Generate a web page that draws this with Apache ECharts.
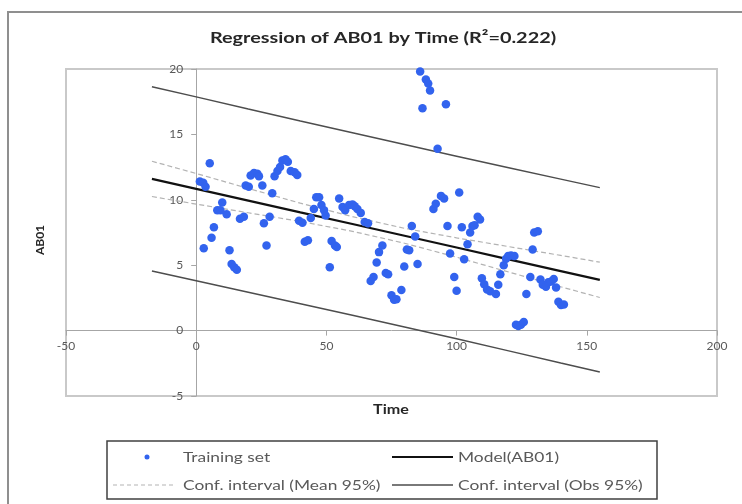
<!DOCTYPE html>
<html>
<head>
<meta charset="utf-8">
<title>Regression of AB01 by Time</title>
<script src="https://cdn.jsdelivr.net/npm/echarts@6/dist/echarts.min.js"></script>
<style>
  html, body { margin: 0; padding: 0; background: #ffffff; }
  #chart { width: 742px; height: 504px; }
</style>
</head>
<body>
<div id="chart"></div>
<script>
// Observations: time and AB01 value of each training point
const timeVals = [
  1.4, 2.7, 2.9, 3.6, 5.2, 5.9, 6.8, 8.1, 9.3, 10.0,
  11.7, 12.8, 13.6, 14.6, 15.6, 16.8, 18.3, 19.0, 20.2, 20.9,
  22.2, 23.5, 24.1, 25.4, 26.0, 27.0, 28.2, 29.2, 30.1, 31.2,
  32.2, 33.1, 34.3, 35.2, 36.3, 37.8, 38.8, 39.5, 40.8, 41.7,
  42.9, 44.0, 45.2, 46.1, 47.2, 48.1, 49.1, 49.7, 51.3, 52.0,
  53.3, 54.0, 54.9, 56.2, 57.2, 58.7, 60.0, 60.9, 61.9, 63.2,
  64.7, 66.0, 67.0, 68.1, 69.3, 70.2, 71.5, 72.8, 73.7, 75.0,
  76.0, 76.9, 78.8, 79.9, 80.9, 81.8, 82.8, 84.1, 85.0, 86.0,
  86.9, 88.2, 89.1, 89.8, 91.1, 92.0, 92.7, 94.0, 95.2, 95.9,
  96.5, 97.5, 99.1, 100.0, 101.0, 102.0, 102.9, 104.2, 105.2, 106.1,
  106.9, 108.1, 109.0, 109.7, 110.6, 111.7, 112.9, 115.1, 116.0, 116.8,
  118.1, 119.0, 119.8, 120.9, 122.2, 122.8, 123.7, 124.7, 125.8, 126.8,
  128.3, 129.2, 129.8, 131.2, 132.2, 133.1, 134.3, 135.2, 136.3, 137.3,
  138.2, 139.1, 140.1, 141.2
];
const ab01Vals = [
  11.4, 11.3, 6.3, 11.0, 12.8, 7.1, 7.9, 9.2, 9.2, 9.8,
  8.9, 6.15, 5.1, 4.85, 4.65, 8.55, 8.7, 11.1, 11.0, 11.85,
  12.05, 12.0, 11.8, 11.1, 8.2, 6.5, 8.7, 10.5, 11.8, 12.2,
  12.5, 13.0, 13.1, 12.9, 12.2, 12.1, 11.9, 8.4, 8.25, 6.8,
  6.9, 8.6, 9.3, 10.2, 10.2, 9.6, 9.2, 8.8, 4.85, 6.85,
  6.5, 6.4, 10.1, 9.45, 9.2, 9.6, 9.65, 9.5, 9.3, 9.0,
  8.3, 8.2, 3.8, 4.1, 5.2, 6.0, 6.5, 4.4, 4.3, 2.7,
  2.35, 2.4, 3.1, 4.9, 6.2, 6.15, 8.0, 7.2, 5.1, 19.8,
  17.0, 19.2, 18.9, 18.35, 9.3, 9.7, 13.9, 10.3, 10.1, 17.3,
  8.0, 5.9, 4.1, 3.05, 10.55, 7.9, 5.45, 6.6, 7.5, 8.0,
  8.05, 8.7, 8.5, 4.0, 3.55, 3.15, 3.0, 2.8, 3.5, 4.3,
  5.0, 5.5, 5.7, 5.75, 5.7, 0.45, 0.35, 0.45, 0.65, 2.8,
  4.1, 6.2, 7.5, 7.6, 3.9, 3.5, 3.35, 3.7, 3.75, 3.95,
  3.3, 2.2, 1.95, 2.0
];

// Fitted model and its interval bands, sampled along the time axis
const bandTime   = [-17, 0, 20, 40, 60, 80, 100, 120, 140, 155];
const modelVals  = [11.60, 10.84, 9.94, 9.04, 8.15, 7.25, 6.35, 5.45, 4.55, 3.88];
const meanUpper  = [12.95, 12.01, 10.87, 9.74, 8.71, 7.82, 7.09, 6.42, 5.75, 5.23];
const meanLower  = [10.25, 9.67, 9.01, 8.34, 7.59, 6.68, 5.61, 4.48, 3.35, 2.53];
const obsUpper   = [18.65, 17.87, 16.94, 16.02, 15.12, 14.22, 13.33, 12.45, 11.58, 10.93];
const obsLower   = [4.55, 3.81, 2.94, 2.06, 1.18, 0.28, -0.63, -1.55, -2.48, -3.17];

// Axis ranges
const timeRange = { min: -50, max: 200, step: 50 };
const ab01Range = { min: -5, max: 20, step: 5 };

const titleText = 'Regression of AB01 by Time (R\u00B2=0.222)';
const legendNames = ['Training set', 'Model(AB01)', 'Conf. interval (Mean 95%)', 'Conf. interval (Obs 95%)'];

const pair = (xs, ys) => xs.map((x, i) => [x, ys[i]]);

const FONT = 'Lato, "Open Sans", sans-serif';
const POINT_COLOR = '#3263ee';
const LABEL_COLOR = '#595959';
const STRETCH = 1.24;   // wide lettering of the chart texts

// plot rectangle
const G = { left: 66, right: 25, top: 69, bottom: 108 };
const W = 742, H = 504;
const plotW = W - G.left - G.right;
const plotH = H - G.top - G.bottom;
// distance from the plot edges to the zero lines, so the axes cross at (0, 0)
const yAxisShift = plotW * (0 - timeRange.min) / (timeRange.max - timeRange.min);
const xAxisShift = plotH * (0 - ab01Range.min) / (ab01Range.max - ab01Range.min);

const chart = echarts.init(document.getElementById('chart'), null, { renderer: 'canvas' });

const bandSeries = (name, data, style) => ({
  name: name,
  type: 'line',
  data: data,
  showSymbol: false,
  symbol: 'none',
  silent: true,
  lineStyle: style,
  z: 3
});

const stretchedText = (x, y, text, font, align, fill) => ({
  type: 'text', silent: true, z: 11, x: x, y: y, scaleX: STRETCH,
  style: { x: 0, y: 0, text: text, textAlign: align, textVerticalAlign: 'middle', font: font, fill: fill }
});

chart.setOption({
  animation: false,
  backgroundColor: '#ffffff',
  grid: {
    left: G.left, right: G.right, top: G.top, bottom: G.bottom,
    outerBoundsMode: 'none',
    containLabel: false,
    show: true,
    borderColor: '#c9c9c9',
    borderWidth: 2,
    backgroundColor: 'transparent'
  },
  xAxis: {
    type: 'value',
    min: timeRange.min, max: timeRange.max, interval: timeRange.step,
    position: 'bottom',
    offset: -xAxisShift,
    axisLine: { onZero: false, lineStyle: { color: '#a6a6a6', width: 1 } },
    axisTick: { show: true, length: 5, lineStyle: { color: '#a6a6a6' } },
    axisLabel: { fontFamily: FONT, fontSize: 12, color: LABEL_COLOR, margin: 10 },
    splitLine: { show: false }
  },
  yAxis: {
    type: 'value',
    min: ab01Range.min, max: ab01Range.max, interval: ab01Range.step,
    position: 'left',
    offset: -yAxisShift,
    axisLine: { onZero: false, lineStyle: { color: '#a6a6a6', width: 1 } },
    axisTick: { show: true, length: 5, lineStyle: { color: '#a6a6a6' } },
    axisLabel: { fontFamily: FONT, fontSize: 12, color: LABEL_COLOR, margin: 13 },
    splitLine: { show: false }
  },
  series: [
    bandSeries(legendNames[3], pair(bandTime, obsUpper), { color: '#4d4d4d', width: 1.5 }),
    bandSeries(legendNames[3], pair(bandTime, obsLower), { color: '#4d4d4d', width: 1.5 }),
    bandSeries(legendNames[2], pair(bandTime, meanUpper), { color: '#b3b3b3', width: 1.2, type: [5, 3] }),
    bandSeries(legendNames[2], pair(bandTime, meanLower), { color: '#b3b3b3', width: 1.2, type: [5, 3] }),
    bandSeries(legendNames[1], pair(bandTime, modelVals), { color: '#111111', width: 2.2 }),
    {
      name: legendNames[0],
      type: 'scatter',
      data: pair(timeVals, ab01Vals),
      symbol: 'circle',
      symbolSize: 8.5,
      itemStyle: { color: POINT_COLOR, opacity: 1 },
      z: 4
    }
  ],
  graphic: [
    // outer chart frame
    { type: 'rect', silent: true, z: 0,
      shape: { x: 8, y: 12, width: 780, height: 540 },
      style: { fill: 'none', stroke: '#8f8f8f', lineWidth: 2 } },
    // title
    stretchedText(383, 38, titleText, 'bold 16px ' + FONT, 'center', '#262626'),
    // axis titles
    stretchedText(391, 410, 'Time', 'bold 13px ' + FONT, 'center', '#262626'),
    { type: 'text', silent: true, z: 11, x: 40, y: 240, rotation: Math.PI / 2,
      style: { x: 0, y: 0, text: 'AB01', textAlign: 'center', textVerticalAlign: 'middle',
               font: 'bold 12px ' + FONT, fill: '#262626' } },
    // legend box
    { type: 'rect', silent: true, z: 10,
      shape: { x: 107, y: 441, width: 550, height: 58 },
      style: { fill: '#ffffff', stroke: '#404040', lineWidth: 1.5 } },
    { type: 'circle', silent: true, z: 11,
      shape: { cx: 147, cy: 457, r: 2.5 },
      style: { fill: POINT_COLOR } },
    stretchedText(183, 457, legendNames[0], '14px ' + FONT, 'left', LABEL_COLOR),
    { type: 'line', silent: true, z: 11,
      shape: { x1: 392, y1: 457, x2: 453, y2: 457 },
      style: { stroke: '#111111', lineWidth: 2 } },
    stretchedText(458, 457, legendNames[1], '14px ' + FONT, 'left', LABEL_COLOR),
    { type: 'line', silent: true, z: 11,
      shape: { x1: 113, y1: 485, x2: 176, y2: 485 },
      style: { stroke: '#b3b3b3', lineWidth: 1.2, lineDash: [4, 3] } },
    stretchedText(183, 485, legendNames[2], '14px ' + FONT, 'left', LABEL_COLOR),
    { type: 'line', silent: true, z: 11,
      shape: { x1: 392, y1: 485, x2: 453, y2: 485 },
      style: { stroke: '#4d4d4d', lineWidth: 1.5 } },
    stretchedText(458, 485, legendNames[3], '14px ' + FONT, 'left', LABEL_COLOR)
  ]
});
</script>
</body>
</html>
